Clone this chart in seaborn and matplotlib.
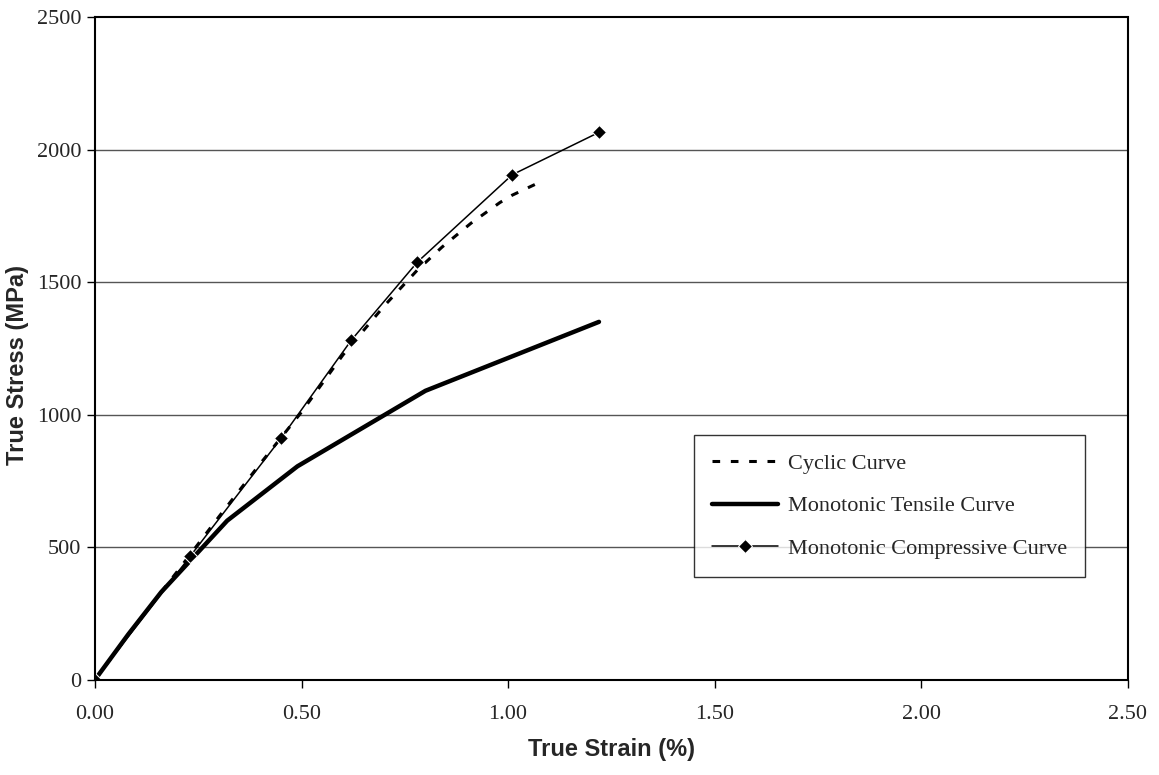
import seaborn as sns
import matplotlib.pyplot as plt
import pandas as pd

# data
cyclic_strain = [0.00, 0.10, 0.20, 0.30, 0.40, 0.50, 0.60, 0.70, 0.78, 0.84, 0.91, 0.98, 1.01, 1.07]
cyclic_stress = [0, 210, 410, 615, 815, 1010, 1225, 1410, 1545, 1632, 1722, 1800, 1828, 1872]

tensile_strain = [0.00, 0.08, 0.16, 0.24, 0.32, 0.49, 0.80, 1.22]
tensile_stress = [0, 170, 330, 465, 600, 805, 1090, 1350]

comp_strain = [0.00, 0.23, 0.45, 0.62, 0.78, 1.01, 1.22]
comp_stress = [0, 465, 910, 1280, 1575, 1905, 2065]

x_ticks = [0.0, 0.5, 1.0, 1.5, 2.0, 2.5]
y_ticks = [0, 500, 1000, 1500, 2000, 2500]

sns.set_style("white")
plt.rcParams['font.family'] = ['Liberation Serif', 'DejaVu Serif']

df_cyc = pd.DataFrame({"strain": cyclic_strain, "stress": cyclic_stress})
df_ten = pd.DataFrame({"strain": tensile_strain, "stress": tensile_stress})
df_comp = pd.DataFrame({"strain": comp_strain, "stress": comp_stress})

fig = plt.figure(figsize=(11.59, 7.75), dpi=100)
ax = fig.add_axes([0.082, 0.123, 0.891, 0.855])

# gridlines
for y in y_ticks[1:-1]:
    ax.axhline(y, color="#555555", lw=1.0, zorder=0)

sns.lineplot(data=df_ten, x="strain", y="stress", ax=ax, color="black", lw=3.2,
             label="Monotonic Tensile Curve", sort=False)
sns.lineplot(data=df_cyc, x="strain", y="stress", ax=ax, color="black", lw=2.2,
             linestyle=(0, (2.5, 3.5)), label="Cyclic Curve", sort=False)
sns.lineplot(data=df_comp, x="strain", y="stress", ax=ax, color="black", lw=1.1,
             marker="D", markersize=7, label="Monotonic Compressive Curve", sort=False)

ax.set_xlim(0, 2.5)
ax.set_ylim(0, 2500)
ax.set_xticks(x_ticks)
ax.set_xticklabels([f"{v:.2f}" for v in x_ticks])
ax.set_yticks(y_ticks)
ax.set_yticklabels([str(v) for v in y_ticks])
ax.tick_params(axis="both", labelsize=16, length=6, direction="out", width=1,
               color="black", bottom=True, left=True)
ax.tick_params(axis="x", pad=12)
ax.tick_params(axis="y", pad=4)

for s in ax.spines.values():
    s.set_linestyle((0, (1, 1)))
    s.set_linewidth(1.5)
    s.set_color("black")

ax.set_xlabel("True Strain (%)", fontsize=17, fontweight="bold",
              family="Liberation Sans", labelpad=10)
ax.set_ylabel("True Stress (MPa)", fontsize=17, fontweight="bold",
              family="Liberation Sans")
ax.yaxis.set_label_coords(-0.064, 0.475)

h, l = ax.get_legend_handles_labels()
order = [1, 0, 2]
leg = ax.legend([h[i] for i in order], [l[i] for i in order],
                loc="lower left", bbox_to_anchor=(0.58, 0.155),
                fontsize=16, frameon=True, fancybox=False,
                edgecolor="black", handlelength=3.0, handletextpad=0.45,
                labelspacing=1.0, borderpad=0.8, borderaxespad=0)
leg.get_frame().set_linewidth(1.0)

fig.savefig("out.png", dpi=100)
